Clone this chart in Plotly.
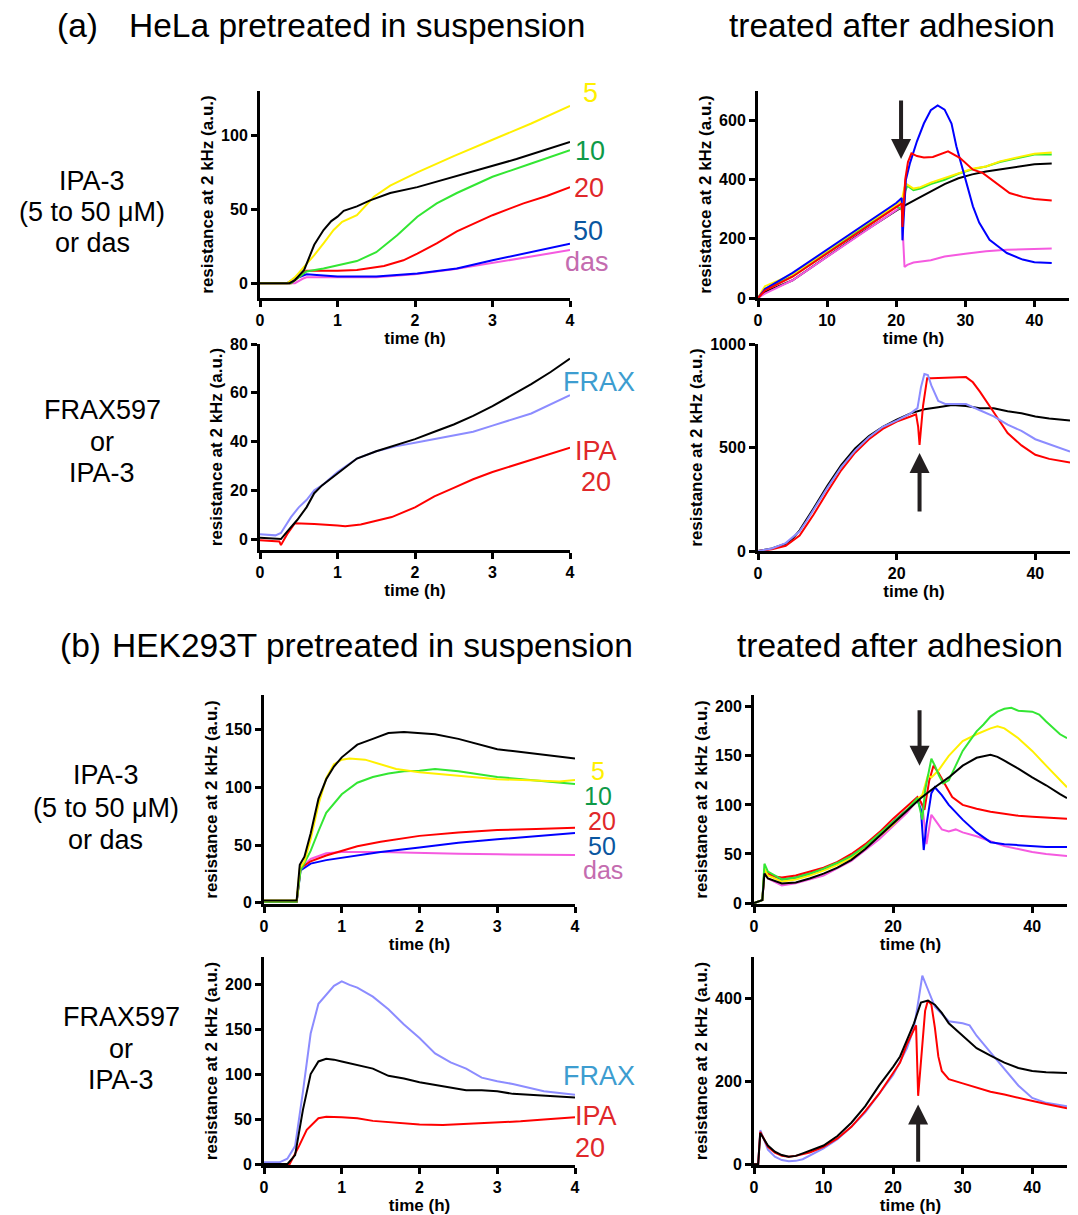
import plotly.graph_objects as go

W, H = 1078, 1215

# ---------------- colours ----------------
C_BLACK = "#000000"
C_YELLOW = "#FFF000"
C_GREEN = "#33E633"
C_RED = "#FF0000"
C_BLUE = "#0000FF"
C_PINK = "#F55AE0"
C_LAV = "#8C8CFF"
L_YELLOW = "#FFF000"
L_GREEN = "#0E9A48"
L_RED = "#E0282A"
L_BLUE = "#0A56A0"
L_PINK = "#C46CAF"
L_FRAX = "#3D9DD0"

# ---------------- panel 1: HeLa, IPA-3 pretreated in suspension ----------------
p1_black_x = [0, 0.38, 0.45, 0.57, 0.7, 0.82, 0.92, 1.0, 1.08, 1.25, 1.42, 1.68, 2.03, 2.37, 2.8, 3.31, 4.0]
p1_black_y = [0, 0, 2, 9, 26, 36, 42, 45, 49, 52, 56, 61, 65, 70, 76.5, 84, 95.5]
p1_yellow_x = [0, 0.35, 0.45, 0.57, 0.7, 0.82, 0.95, 1.06, 1.25, 1.47, 1.68, 2.03, 2.5, 3.0, 3.5, 4.0]
p1_yellow_y = [0, 0, 4, 11, 19, 27, 36, 41.5, 46, 58.5, 66, 75, 86, 97, 108, 120]
p1_green_x = [0, 0.4, 0.5, 0.6, 0.82, 1.08, 1.25, 1.5, 1.77, 2.03, 2.28, 2.54, 3.0, 3.5, 4.0]
p1_green_y = [0, 0, 4, 8, 10, 13, 15, 21, 32.5, 45, 54, 61, 72, 81, 90]
p1_red_x = [0, 0.4, 0.5, 0.6, 1.0, 1.25, 1.6, 1.85, 2.03, 2.28, 2.54, 3.0, 3.4, 3.7, 4.0]
p1_red_y = [0, 0, 4, 8.5, 8.5, 9, 11.7, 15.5, 20, 27, 35, 46, 54, 59, 65]
p1_blue_x = [0, 0.35, 0.45, 0.6, 1.0, 1.5, 2.03, 2.54, 3.0, 3.5, 4.0]
p1_blue_y = [0, 0, 3, 6, 4.5, 4.5, 6.5, 10, 15.5, 21, 26.7]
p1_pink_x = [0, 0.45, 0.55, 0.6, 1.5, 2.0, 2.5, 3.0, 3.5, 4.0]
p1_pink_y = [0, 0, 3, 4, 4, 6, 9.5, 13.5, 18, 22.5]

# ---------------- panel 2: HeLa, IPA-3 treated after adhesion ----------------
p2_blue_x = [0, 1, 5, 10, 15, 20, 20.8, 20.9, 21.4, 22, 23, 24, 25, 26, 27, 28, 28.7, 30, 31.1, 32, 33.5, 35, 36, 38.3, 40, 42.5]
p2_blue_y = [0, 30, 85, 163, 243, 321, 338, 195, 400, 457, 530, 590, 635, 651, 637, 590, 513, 400, 310, 255, 197, 170, 152, 130, 121, 118]
p2_red_x = [0, 1, 5, 10, 15, 20, 20.8, 20.9, 21.3, 21.7, 22.2, 23, 24, 25.3, 26.5, 27.5, 29.2, 31.1, 32.5, 34.5, 36.4, 38.3, 40, 42.5]
p2_red_y = [0, 25, 72, 150, 228, 305, 320, 240, 400, 460, 489, 480, 475, 477, 488, 496, 474, 434, 423, 389, 355, 342, 335, 330]
p2_green_x = [0, 1, 5, 10, 15, 20, 20.8, 20.9, 21.3, 21.6, 22.5, 23.5, 25, 27, 29, 31, 33, 35, 38, 40, 42.5]
p2_green_y = [0, 30, 75, 155, 235, 310, 300, 270, 360, 380, 365, 370, 385, 400, 420, 435, 445, 460, 475, 485, 485]
p2_yellow_x = [0, 1, 5, 10, 15, 20, 20.8, 21.2, 21.5, 22.5, 23.5, 25, 27, 29, 31, 33, 35, 38, 40, 42.5]
p2_yellow_y = [0, 40, 80, 160, 240, 315, 330, 375, 385, 370, 375, 390, 405, 420, 437, 445, 462, 478, 488, 492]
p2_black_x = [0, 1, 5, 10, 15, 20, 21, 23, 25, 27, 29, 31, 33, 35, 38, 40, 42.5]
p2_black_y = [0, 20, 60, 140, 220, 295, 310, 335, 360, 385, 405, 418, 428, 435, 447, 452, 455]
p2_pink_x = [0, 1, 5, 10, 15, 20, 20.8, 21.0, 21.2, 21.6, 22.5, 25, 27, 30, 33, 36, 40, 42.5]
p2_pink_y = [0, 15, 60, 140, 220, 300, 310, 200, 105, 112, 120, 128, 140, 150, 158, 163, 167, 167]

# ---------------- panel 3: HeLa, FRAX597 / IPA-3 in suspension ----------------
p3_black_x = [0, 0.27, 0.35, 0.48, 0.6, 0.7, 0.8, 1.0, 1.25, 1.5, 1.75, 2.0, 2.25, 2.5, 2.75, 3.0, 3.25, 3.5, 3.75, 4.0]
p3_black_y = [0.5, 0, 3, 7.8, 13, 18.8, 22, 27, 33, 36, 38.5, 41, 44, 47, 50.5, 54.5, 59, 63.5, 68.5, 74]
p3_frax_x = [0, 0.2, 0.27, 0.4, 0.5, 0.6, 0.7, 0.8, 1.0, 1.25, 1.5, 1.75, 2.0, 2.5, 2.75, 3.0, 3.5, 4.0]
p3_frax_y = [2, 1.5, 2.5, 9, 13, 16, 20, 22, 27.5, 33, 36, 38, 39.5, 42.5, 44, 46.5, 51.5, 59]
p3_red_x = [0, 0.25, 0.27, 0.35, 0.45, 0.7, 1.0, 1.1, 1.3, 1.5, 1.7, 2.0, 2.25, 2.5, 2.75, 3.0, 3.25, 3.5, 4.0]
p3_red_y = [-0.5, -1, -2.5, 2, 6.5, 6.2, 5.5, 5.2, 6, 7.5, 9, 13, 17.5, 21, 24.5, 27.5, 30, 32.5, 37.5]

# ---------------- panel 4: HeLa, FRAX597 / IPA-3 after adhesion ----------------
p4_black_x = [0, 2, 4, 5, 6, 7, 8, 10, 12, 14, 16, 18, 20, 22, 24, 26, 28, 30, 32, 34, 36, 38, 40, 42, 45]
p4_black_y = [0, 12, 35, 60, 100, 150, 205, 315, 415, 495, 555, 600, 635, 665, 685, 695, 705, 700, 690, 690, 675, 665, 650, 640, 630]
p4_red_x = [0, 2, 4, 6, 7, 8, 10, 12, 14, 16, 18, 20, 22, 22.8, 23.1, 23.3, 23.8, 24.4, 25, 28, 30, 31, 32, 34, 36, 38, 40, 42, 45]
p4_red_y = [0, 8, 25, 75, 125, 175, 285, 390, 475, 540, 590, 625, 650, 660, 600, 513, 700, 835, 835, 838, 840, 815, 770, 670, 570, 510, 465, 445, 428]
p4_frax_x = [0, 2, 4, 6, 7, 8, 10, 12, 14, 16, 18, 20, 22, 23, 23.5, 24, 24.5, 25, 26, 27, 30, 32, 34, 36, 38, 40, 42, 45]
p4_frax_y = [0, 12, 38, 95, 145, 200, 305, 405, 485, 550, 600, 630, 665, 690, 790, 855, 850, 800, 725, 710, 710, 680, 650, 610, 580, 540, 515, 480]

# ---------------- panel 5: HEK293T, IPA-3 pretreated in suspension ----------------
p5_black_x = [0, 0.42, 0.46, 0.52, 0.6, 0.7, 0.8, 0.9, 1.0, 1.2, 1.4, 1.6, 1.8, 2.0, 2.2, 2.5, 2.8, 3.0, 3.2, 3.5, 3.8, 4.0]
p5_black_y = [2, 2, 33, 40, 60, 90, 107, 118, 126, 137, 142, 147, 148, 147, 146, 142, 137, 133, 131.5, 129, 127, 125]
p5_yellow_x = [0, 0.42, 0.46, 0.52, 0.6, 0.7, 0.8, 0.9, 1.0, 1.1, 1.3, 1.5, 1.7, 2.0, 2.5, 3.0, 3.5, 3.8, 4.0]
p5_yellow_y = [2, 2, 30, 36, 55, 85, 108, 120, 124, 125, 124, 120, 116, 113, 110, 107, 106, 105, 106.5]
p5_green_x = [0, 0.42, 0.47, 0.6, 0.7, 0.8, 1.0, 1.2, 1.4, 1.6, 1.8, 2.0, 2.2, 2.5, 3.0, 3.5, 4.0]
p5_green_y = [1, 1, 28, 45, 62, 78, 94, 104, 109, 112, 114, 114.5, 116, 114, 109, 106, 103]
p5_red_x = [0, 0.42, 0.47, 0.6, 0.8, 1.0, 1.2, 1.5, 2.0, 2.5, 3.0, 3.5, 4.0]
p5_red_y = [1, 1, 30, 36, 41, 45, 49, 53, 58, 61, 63, 64, 65]
p5_blue_x = [0, 0.42, 0.47, 0.6, 0.8, 1.0, 1.3, 1.5, 2.0, 2.5, 3.0, 3.5, 4.0]
p5_blue_y = [1, 1, 28, 34, 37, 39, 42, 44, 48, 52, 55, 58, 60.5]
p5_pink_x = [0, 0.42, 0.47, 0.6, 0.8, 1.0, 1.5, 2.0, 2.5, 3.0, 3.5, 4.0]
p5_pink_y = [1, 1, 30, 38, 43, 44, 44, 43, 42.5, 42, 42, 41.5]

# ---------------- panel 6: HEK293T, IPA-3 after adhesion ----------------
p6_red_x = [0, 1.2, 1.5, 2, 3, 4, 6, 8, 10, 12, 14, 16, 18, 20, 22, 23.5, 24, 24.5, 25.2, 25.8, 26.5, 27.5, 28.5, 30, 32, 34, 36, 38, 40, 42, 45]
p6_red_y = [0, 3, 33, 30, 27, 26, 28, 32, 36, 42, 50, 60, 72, 86, 98, 108, 103, 95, 125, 140, 133, 120, 108, 100, 96, 93, 91, 89, 88, 87, 86]
p6_blue_x = [0, 1.2, 1.5, 2, 4, 6, 8, 10, 12, 14, 16, 18, 20, 22, 23.5, 24, 24.4, 24.8, 25.5, 26, 27, 28, 30, 32, 34, 36, 38, 40, 42, 45]
p6_blue_y = [0, 3, 33, 30, 24, 26, 30, 35, 41, 48, 58, 70, 82, 95, 105, 95, 54, 80, 112, 118, 110, 100, 85, 72, 62, 60, 59, 58, 57, 57]
p6_green_x = [0, 1.2, 1.5, 2, 4, 6, 8, 10, 12, 14, 16, 18, 20, 22, 23.5, 24.2, 24.6, 25.5, 26, 26.6, 27.2, 28, 29, 30, 31, 32, 33, 34, 35, 36, 37, 38, 40, 41, 42, 43, 44, 45]
p6_green_y = [0, 3, 40, 32, 24, 26, 30, 35, 41, 48, 58, 70, 82, 95, 107, 85, 115, 147, 140, 130, 122, 125, 140, 155, 165, 175, 182, 190, 195, 198, 199, 196, 195, 192, 185, 178, 172, 168]
p6_yellow_x = [0, 1.2, 1.5, 2, 4, 6, 8, 10, 12, 14, 16, 18, 20, 22, 23.5, 24.2, 25, 25.5, 26.5, 28, 30, 32, 34, 35, 36, 38, 40, 42, 44, 45]
p6_yellow_y = [0, 3, 35, 28, 22, 24, 28, 33, 39, 46, 56, 68, 80, 95, 106, 110, 130, 128, 135, 150, 165, 172, 178, 180, 178, 168, 155, 140, 125, 118]
p6_black_x = [0, 1.2, 1.5, 2, 4, 6, 8, 10, 12, 14, 16, 18, 20, 22, 24, 26, 28, 30, 32, 34, 35, 36, 38, 40, 42, 44, 45]
p6_black_y = [0, 3, 30, 25, 20, 21, 25, 30, 36, 44, 55, 68, 82, 95, 107, 118, 128, 140, 148, 151, 149, 145, 137, 128, 120, 111, 107]
p6_pink_x = [0, 1.2, 1.5, 2, 4, 6, 10, 14, 18, 20, 22, 23.5, 24.2, 24.8, 25.5, 26, 27, 28, 29, 30, 32, 34, 36, 38, 40, 42, 45]
p6_pink_y = [0, 3, 32, 25, 18, 20, 28, 43, 65, 78, 92, 105, 100, 60, 90, 85, 75, 73, 75, 72, 68, 63, 58, 55, 52, 50, 48]

# ---------------- panel 7: HEK293T, FRAX597 / IPA-3 in suspension ----------------
p7_frax_x = [0, 0.2, 0.3, 0.4, 0.5, 0.6, 0.7, 0.8, 0.9, 1.0, 1.1, 1.2, 1.4, 1.6, 1.8, 2.0, 2.2, 2.4, 2.6, 2.8, 3.0, 3.2, 3.4, 3.6, 3.8, 4.0]
p7_frax_y = [2, 2, 6, 20, 80, 145, 178, 188, 198, 203, 199, 196, 186, 172, 155, 140, 123, 113, 106, 96, 92, 89, 85, 81, 79, 77]
p7_black_x = [0, 0.3, 0.4, 0.5, 0.6, 0.7, 0.8, 0.9, 1.0, 1.2, 1.4, 1.6, 1.8, 2.0, 2.2, 2.4, 2.6, 2.8, 3.0, 3.2, 3.4, 3.6, 3.8, 4.0]
p7_black_y = [0, 0, 10, 60, 100, 114, 117, 116, 114, 110, 106, 98, 95, 91, 88, 85, 82, 82, 81, 78, 77, 76, 75, 74]
p7_red_x = [0, 0.33, 0.45, 0.55, 0.7, 0.8, 1.0, 1.2, 1.4, 1.6, 1.8, 2.0, 2.3, 2.6, 2.8, 3.0, 3.3, 3.6, 4.0]
p7_red_y = [0, 0, 20, 38, 51, 52.5, 52, 51, 48, 46.5, 45, 44, 43.5, 44.5, 45, 46.5, 47.5, 49.5, 52]

# ---------------- panel 8: HEK293T, FRAX597 / IPA-3 after adhesion ----------------
p8_black_x = [0, 0.6, 0.9, 1.5, 2, 3, 4, 5, 6, 7, 8, 10, 12, 14, 16, 18, 20, 21, 22, 23, 24, 25, 26, 27, 28, 30, 32, 34, 36, 38, 40, 42, 45]
p8_black_y = [0, 0, 75, 60, 45, 30, 22, 18, 20, 26, 32, 45, 68, 100, 140, 190, 235, 260, 300, 340, 390, 395, 385, 365, 340, 310, 280, 262, 245, 232, 225, 222, 220]
p8_frax_x = [0, 0.6, 0.9, 2, 3, 4, 5, 6, 7, 8, 10, 12, 14, 16, 18, 20, 22, 23, 23.5, 24.2, 24.8, 26, 28, 30, 31, 32, 34, 36, 38, 40, 42, 45]
p8_frax_y = [0, 0, 82, 35, 18, 10, 7, 8, 12, 20, 38, 60, 90, 125, 170, 215, 280, 330, 380, 455, 430, 380, 345, 340, 335, 310, 270, 230, 190, 160, 148, 140]
p8_red_x = [0, 0.6, 0.9, 2, 3, 4, 5, 6, 8, 10, 12, 14, 16, 18, 20, 21, 22, 23, 23.3, 23.6, 24, 24.6, 25, 25.5, 26, 26.5, 27, 28, 30, 32, 34, 36, 38, 40, 42, 45]
p8_red_y = [0, 0, 78, 42, 28, 20, 18, 20, 28, 42, 62, 90, 128, 170, 220, 245, 290, 325, 335, 165, 250, 370, 395, 385, 330, 260, 225, 205, 195, 185, 175, 168, 160, 152, 145, 135]

# ---------------- axis ranges / ticks ----------------
X_SUS_TICKS = [0, 1, 2, 3, 4]

panels = [
    # (px_left, px_right, px_top, px_bottom, xrange, xticks, yrange, yticks)
    (260, 570, 91, 298, [0, 4], X_SUS_TICKS, [-10, 130], [0, 50, 100]),
    (758, 1069, 91, 298, [0, 45], [0, 10, 20, 30, 40], [0, 700], [0, 200, 400, 600]),
    (260, 570, 344, 550, [0, 4], X_SUS_TICKS, [-4.5, 80], [0, 20, 40, 60, 80]),
    (758, 1070, 344, 551, [0, 45], [0, 20, 40], [0, 1000], [0, 500, 1000]),
    (264, 575, 695, 904, [0, 4], X_SUS_TICKS, [-1, 180], [0, 50, 100, 150]),
    (754, 1067, 695, 904, [0, 45], [0, 20, 40], [-1, 212], [0, 50, 100, 150, 200]),
    (264, 575, 957, 1165, [0, 4], X_SUS_TICKS, [-1, 230], [0, 50, 100, 150, 200]),
    (754, 1067, 957, 1165, [0, 45], [0, 10, 20, 30, 40], [-2, 500], [0, 200, 400]),
]

series = [
    (1, [(p1_pink_x, p1_pink_y, C_PINK), (p1_blue_x, p1_blue_y, C_BLUE), (p1_red_x, p1_red_y, C_RED),
         (p1_green_x, p1_green_y, C_GREEN), (p1_yellow_x, p1_yellow_y, C_YELLOW), (p1_black_x, p1_black_y, C_BLACK)]),
    (2, [(p2_black_x, p2_black_y, C_BLACK), (p2_pink_x, p2_pink_y, C_PINK), (p2_green_x, p2_green_y, C_GREEN),
         (p2_yellow_x, p2_yellow_y, C_YELLOW), (p2_blue_x, p2_blue_y, C_BLUE), (p2_red_x, p2_red_y, C_RED)]),
    (3, [(p3_red_x, p3_red_y, C_RED), (p3_frax_x, p3_frax_y, C_LAV), (p3_black_x, p3_black_y, C_BLACK)]),
    (4, [(p4_black_x, p4_black_y, C_BLACK), (p4_red_x, p4_red_y, C_RED), (p4_frax_x, p4_frax_y, C_LAV)]),
    (5, [(p5_pink_x, p5_pink_y, C_PINK), (p5_blue_x, p5_blue_y, C_BLUE), (p5_red_x, p5_red_y, C_RED),
         (p5_green_x, p5_green_y, C_GREEN), (p5_yellow_x, p5_yellow_y, C_YELLOW), (p5_black_x, p5_black_y, C_BLACK)]),
    (6, [(p6_pink_x, p6_pink_y, C_PINK), (p6_blue_x, p6_blue_y, C_BLUE), (p6_red_x, p6_red_y, C_RED),
         (p6_yellow_x, p6_yellow_y, C_YELLOW), (p6_green_x, p6_green_y, C_GREEN), (p6_black_x, p6_black_y, C_BLACK)]),
    (7, [(p7_red_x, p7_red_y, C_RED), (p7_frax_x, p7_frax_y, C_LAV), (p7_black_x, p7_black_y, C_BLACK)]),
    (8, [(p8_frax_x, p8_frax_y, C_LAV), (p8_red_x, p8_red_y, C_RED), (p8_black_x, p8_black_y, C_BLACK)]),
]

FONT = "Liberation Sans, Arial, sans-serif"

fig = go.Figure()
for idx, trs in series:
    sfx = "" if idx == 1 else str(idx)
    for xs, ys, col in trs:
        fig.add_trace(go.Scatter(x=xs, y=ys, mode="lines", line=dict(color=col, width=2),
                                 xaxis="x" + sfx, yaxis="y" + sfx, showlegend=False,
                                 hoverinfo="skip"))

layout = dict(width=W, height=H, margin=dict(l=0, r=0, t=0, b=0),
              paper_bgcolor="white", plot_bgcolor="white", showlegend=False,
              font=dict(family=FONT, color="black"))

for i, (l, r, t, b, xr, xt, yr, yt) in enumerate(panels, start=1):
    sfx = "" if i == 1 else str(i)
    common = dict(showline=True, linewidth=3, linecolor="black", ticks="outside",
                  ticklen=6, tickwidth=3, tickcolor="black", showgrid=False, zeroline=False,
                  tickfont=dict(family=FONT, size=16, color="black", weight="bold"),
                  automargin=False, fixedrange=True)
    layout["xaxis" + sfx] = dict(common, domain=[l / W, r / W], range=xr, tickvals=xt,
                                 anchor="y" + sfx,
                                 title=dict(text="time (h)", standoff=4,
                                            font=dict(family=FONT, size=17, weight="bold")))
    layout["yaxis" + sfx] = dict(common, domain=[1 - b / H, 1 - t / H], range=yr, tickvals=yt,
                                 anchor="x" + sfx,
                                 title=dict(text="resistance at 2 kHz (a.u.)", standoff=4,
                                            font=dict(family=FONT, size=17, weight="bold")))

ann = []


def txt(s, px, py, size, color="black", xanchor="center"):
    ann.append(dict(text=s, x=px / W, y=1 - py / H, xref="paper", yref="paper",
                    xanchor=xanchor, yanchor="middle", showarrow=False,
                    font=dict(family=FONT, size=size, color=color)))


# headings
txt("(a)", 77, 25, 33.5)
txt("HeLa pretreated in suspension", 357, 25, 33.5)
txt("treated after adhesion", 892, 25, 33.5)
txt("(b)", 80, 645, 33.5)
txt("HEK293T pretreated in suspension", 372, 645, 33.5)
txt("treated after adhesion", 900, 645, 33.5)

# row labels
for s, y in [("IPA-3", 181), ("(5 to 50 μM)", 212), ("or das", 243)]:
    txt(s, 92, y, 27)
for s, y in [("FRAX597", 410), ("or", 442), ("IPA-3", 473)]:
    txt(s, 102, y, 27)
for s, y in [("IPA-3", 775), ("(5 to 50 μM)", 808), ("or das", 840)]:
    txt(s, 106, y, 27)
for s, y in [("FRAX597", 1017), ("or", 1049), ("IPA-3", 1080)]:
    txt(s, 121, y, 27)

# series labels
for s, x, y, c, fs in [("5", 590, 93, L_YELLOW, 27), ("10", 590, 151, L_GREEN, 27), ("20", 589, 188, L_RED, 27),
                       ("50", 588, 231, L_BLUE, 27), ("das", 587, 262, L_PINK, 27),
                       ("FRAX", 599, 382, L_FRAX, 27), ("IPA", 596, 451, L_RED, 27), ("20", 596, 482, L_RED, 27),
                       ("5", 598, 771, L_YELLOW, 25), ("10", 598, 796, L_GREEN, 25), ("20", 602, 821, L_RED, 25),
                       ("50", 602, 846, L_BLUE, 25), ("das", 603, 870, L_PINK, 25),
                       ("FRAX", 599, 1076, L_FRAX, 27), ("IPA", 596, 1116, L_RED, 27), ("20", 590, 1148, L_RED, 27)]:
    txt(s, x, y, fs, c)

# arrows (tip x, tip y, tail y, axis index)
arrows = [(20.7, 470, 673, 2), (23.3, 473, 184, 4), (23.8, 140, 198, 6), (23.6, 144, 2, 8)]
for ax_x, tip, tail, i in arrows:
    ann.append(dict(x=ax_x, y=tip, ax=ax_x, ay=tail, xref="x%d" % i, yref="y%d" % i,
                    axref="x%d" % i, ayref="y%d" % i, text="", showarrow=True,
                    arrowhead=2, arrowsize=1, arrowwidth=4, arrowcolor="#231F20"))

layout["annotations"] = ann
fig.update_layout(**layout)
fig.write_html("out.html", config={"displayModeBar": False},
               post_script="document.body.style.margin='0px';document.body.style.padding='0px';document.body.style.overflow='hidden';")
